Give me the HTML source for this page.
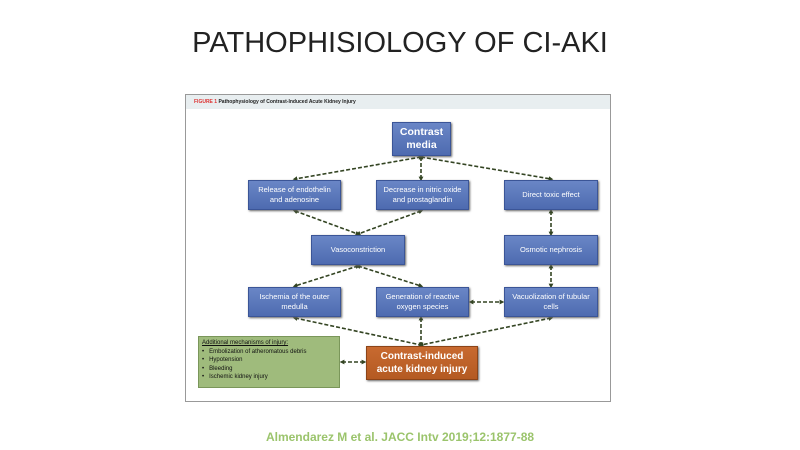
<!DOCTYPE html>
<html><head><style>
body{margin:0;width:800px;height:450px;background:#fff;position:relative;overflow:hidden;font-family:"Liberation Sans",sans-serif}
.t{position:absolute;left:0;width:800px;top:27px;text-align:center;font-size:29px;color:#222;font-weight:normal;letter-spacing:0px}
.fig{position:absolute;left:185px;top:94px;width:426px;height:308px;border:1px solid #999;box-sizing:border-box;background:#fff}
.hd{position:absolute;left:186px;top:95px;width:424px;height:14px;background:#e8eef0;font-size:5px;font-weight:bold;line-height:14px;padding-left:8px;box-sizing:border-box;color:#222}
.b{position:absolute;background:linear-gradient(#6a86c6,#4e6bb0);border:1px solid #3b5597;box-shadow:1px 1px 2px #666;color:#fff;font-size:7.5px;text-align:center;display:flex;align-items:center;justify-content:center;line-height:10px;box-sizing:border-box}
.c{position:absolute;left:255px;width:290px;top:430px;text-align:center;color:#9bc46c;font-weight:bold;font-size:12px}
</style></head><body>
<div class="t">PATHOPHISIOLOGY OF CI-AKI</div>
<div class="fig"></div>
<div class="hd"><span style="color:#d33">FIGURE 1</span> Pathophysiology of Contrast-Induced Acute Kidney Injury</div>
<svg width="800" height="450" style="position:absolute;left:0;top:0">
<defs><marker id="a" markerWidth="3" markerHeight="3" refX="1.5" refY="1.5" orient="auto-start-reverse"><path d="M0,0L3,1.5L0,3z" fill="#334422"/></marker></defs>
<g stroke="#334422" stroke-width="1.6" stroke-dasharray="4,2" fill="none" marker-end="url(#a)" marker-start="url(#a)">
<line x1="421" y1="157" x2="295" y2="179"/>
<line x1="421" y1="157" x2="421" y2="179"/>
<line x1="421" y1="157" x2="551" y2="179"/>
<line x1="295" y1="211" x2="358" y2="234"/>
<line x1="421" y1="211" x2="358" y2="234"/>
<line x1="551" y1="211" x2="551" y2="234"/>
<line x1="358" y1="266" x2="295" y2="286"/>
<line x1="358" y1="266" x2="421" y2="286"/>
<line x1="551" y1="266" x2="551" y2="286"/>
<line x1="471" y1="302" x2="502" y2="302"/>
<line x1="295" y1="318" x2="421" y2="345"/>
<line x1="421" y1="318" x2="421" y2="345"/>
<line x1="551" y1="318" x2="421" y2="345"/>
<line x1="342" y1="362" x2="364" y2="362"/>
</g></svg>
<div class="b" style="left:392px;top:122px;width:59px;height:34px;font-size:10.5px;font-weight:bold;line-height:13px">Contrast<br>media</div>
<div class="b" style="left:248px;top:180px;width:93px;height:30px">Release of endothelin<br>and adenosine</div>
<div class="b" style="left:376px;top:180px;width:93px;height:30px">Decrease in nitric oxide<br>and prostaglandin</div>
<div class="b" style="left:504px;top:180px;width:94px;height:30px">Direct toxic effect</div>
<div class="b" style="left:311px;top:235px;width:94px;height:30px">Vasoconstriction</div>
<div class="b" style="left:504px;top:235px;width:94px;height:30px">Osmotic nephrosis</div>
<div class="b" style="left:248px;top:287px;width:93px;height:30px">Ischemia of the outer<br>medulla</div>
<div class="b" style="left:376px;top:287px;width:93px;height:30px">Generation of reactive<br>oxygen species</div>
<div class="b" style="left:504px;top:287px;width:94px;height:30px">Vacuolization of tubular<br>cells</div>
<div style="position:absolute;left:198px;top:336px;width:142px;height:52px;background:#9fbb7c;border:1px solid #7a965a;box-sizing:border-box;font-size:6px;line-height:8.5px;color:#111;padding:2px 3px">
<u>Additional mechanisms of injury:</u><br>•&nbsp;&nbsp;&nbsp;Embolization of atheromatous debris<br>•&nbsp;&nbsp;&nbsp;Hypotension<br>•&nbsp;&nbsp;&nbsp;Bleeding<br>•&nbsp;&nbsp;&nbsp;Ischemic kidney injury</div>
<div class="b" style="left:366px;top:346px;width:112px;height:34px;background:linear-gradient(#c86a30,#b45a22);border-color:#8c4418;font-size:10px;font-weight:bold;line-height:13px">Contrast-induced<br>acute kidney injury</div>
<div class="c">Almendarez M et al. JACC Intv 2019;12:1877-88</div>
</body></html>
